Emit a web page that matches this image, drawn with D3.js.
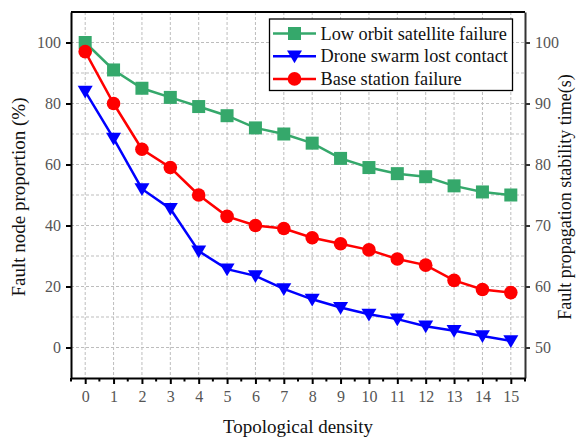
<!DOCTYPE html>
<html>
<head>
<meta charset="utf-8">
<script src="https://cdn.jsdelivr.net/npm/d3@7"></script>
<style>
html,body{margin:0;padding:0;background:#fff;}
svg text{font-family:"Liberation Serif","Times New Roman",serif;}
</style>
</head>
<body>
<svg id="chart" width="583" height="438"></svg>
<script>
const densities = [0,1,2,3,4,5,6,7,8,9,10,11,12,13,14,15];
const satelliteFailure = [100,91,85,82,79,76,72,70,67,62,59,57,56,53,51,50];
const droneLostContact = [84,68.6,52,45.5,31.6,25.7,23.5,19.2,15.8,13.1,10.9,9.3,7,5.5,3.8,2.2];
const baseStationFailure = [97,80,65,59,50,43,40,39,36,34,32,29,27,22,19,18];
const seriesNames = ["Low orbit satellite failure","Drone swarm lost contact","Base station failure"];
const leftTicks = [0,20,40,60,80,100];
const rightTicks = [50,60,70,80,90,100];

const svg = d3.select("#chart");
const m = {left:71, top:12, right:525, bottom:378};
const x = d3.scaleLinear().domain([-0.5,15.5]).range([m.left,m.right]);
const y = d3.scaleLinear().domain([-10,110]).range([m.bottom,m.top]);
const yR = d3.scaleLinear().domain([45,105]).range([m.bottom,m.top]);

// grid
const grid = svg.append("g");
grid.selectAll("line.v").data(densities).enter().append("line")
  .attr("x1",d=>x(d)).attr("x2",d=>x(d)).attr("y1",m.top).attr("y2",m.bottom)
  .attr("stroke","#bdbdbd").attr("stroke-width",1).attr("stroke-dasharray","3,2");
grid.selectAll("line.h").data(d3.range(0,101,10)).enter().append("line")
  .attr("y1",d=>y(d)).attr("y2",d=>y(d)).attr("x1",m.left).attr("x2",m.right)
  .attr("stroke","#bdbdbd").attr("stroke-width",1).attr("stroke-dasharray","3,2");

// frame top
svg.append("line").attr("x1",m.left).attr("x2",m.right).attr("y1",m.top).attr("y2",m.top)
  .attr("stroke","#000").attr("stroke-width",2);

// left axis
const gl = svg.append("g").attr("transform",`translate(${m.left},0)`)
  .call(d3.axisLeft(y).tickValues(leftTicks).tickSize(5).tickSizeOuter(0).tickPadding(5));
gl.select(".domain").attr("stroke","#000").attr("stroke-width",2);
gl.selectAll(".tick line").attr("stroke","#000").attr("stroke-width",2);
gl.selectAll(".tick text").attr("fill","#555").style("font-size","16px");

// right axis
const gr = svg.append("g").attr("transform",`translate(${m.right},0)`)
  .call(d3.axisRight(yR).tickValues(rightTicks).tickSize(5).tickSizeOuter(0).tickPadding(5));
gr.select(".domain").attr("stroke","#333").attr("stroke-width",2);
gr.selectAll(".tick line").attr("stroke","#333").attr("stroke-width",2);
gr.selectAll(".tick text").attr("fill","#555").style("font-size","16px");

// bottom axis
const gb = svg.append("g").attr("transform",`translate(0,${m.bottom})`)
  .call(d3.axisBottom(x).tickValues(densities).tickSize(6).tickSizeOuter(0).tickPadding(7).tickFormat(d3.format("d")));
gb.select(".domain").attr("stroke","#000").attr("stroke-width",2);
gb.selectAll(".tick line").attr("stroke","#000").attr("stroke-width",2);
gb.selectAll(".tick text").attr("fill","#555").style("font-size","16px");
gb.selectAll("line.minor").data(d3.range(-0.5,15.6,1)).enter().append("line")
  .attr("x1",d=>x(d)).attr("x2",d=>x(d)).attr("y1",0).attr("y2",3.5)
  .attr("stroke","#000").attr("stroke-width",2);

// titles
svg.append("text").attr("x",(m.left+m.right)/2).attr("y",433).attr("text-anchor","middle")
  .style("font-size","19px").attr("fill","#111").text("Topological density");
svg.append("text").attr("transform",`translate(25,${(m.top+m.bottom)/2+2}) rotate(-90)`)
  .attr("text-anchor","middle").style("font-size","19px").attr("fill","#111").text("Fault node proportion (%)");
svg.append("text").attr("transform",`translate(571,${(m.top+m.bottom)/2+2}) rotate(-90)`)
  .attr("text-anchor","middle").style("font-size","18px").attr("fill","#111").text("Fault propagation stability time(s)");

const line = d3.line().x((d,i)=>x(densities[i])).y(d=>y(d));
const colors = ["#35a86b","#0000ff","#ff0000"];
const dataSets = [satelliteFailure, droneLostContact, baseStationFailure];
const triangle = s => `M${-s},${-s*0.75}L${s},${-s*0.75}L0,${s*0.95}Z`;

function marker(g, kind, color, cx, cy){
  if(kind===0) g.append("rect").attr("x",cx-6.5).attr("y",cy-6.5).attr("width",13).attr("height",13).attr("fill",color);
  else if(kind===1) g.append("path").attr("transform",`translate(${cx},${cy})`).attr("d",triangle(7.5)).attr("fill",color);
  else g.append("circle").attr("cx",cx).attr("cy",cy).attr("r",6.8).attr("fill",color);
}

[0,2,1].forEach(k=>{
  const g = svg.append("g");
  g.append("path").datum(dataSets[k]).attr("d",line).attr("fill","none")
    .attr("stroke",colors[k]).attr("stroke-width",2.5);
  dataSets[k].forEach((v,i)=>marker(g,k,colors[k],x(densities[i]),y(v)));
});

// legend
const lg = svg.append("g");
lg.append("rect").attr("x",269.5).attr("y",19).attr("width",243).attr("height",71.5)
  .attr("fill","#fff").attr("stroke","#000").attr("stroke-width",1.3);
seriesNames.forEach((n,k)=>{
  const ly = 33.5 + k*22.7;
  lg.append("line").attr("x1",273).attr("x2",316).attr("y1",ly).attr("y2",ly)
    .attr("stroke",colors[k]).attr("stroke-width",2.5);
  marker(lg,k,colors[k],294.5,ly);
  lg.append("text").attr("x",320.5).attr("y",ly+6).style("font-size","18.3px").attr("fill","#111").text(n);
});
</script>
</body>
</html>
